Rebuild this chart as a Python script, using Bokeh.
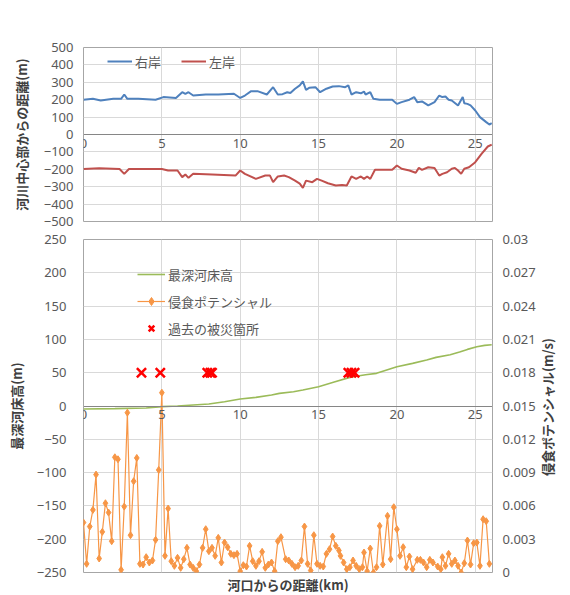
import math
from bokeh.plotting import figure
from bokeh.layouts import column
from bokeh.models import Range1d, LinearAxis, FixedTicker, NumeralTickFormatter, Legend, LegendItem, Title
from bokeh.embed import file_html
from bokeh.resources import INLINE

# ---------------- data ----------------
# top chart: distance from river centre (m)
right_km = [0, 0.6, 1.1, 1.9, 2.4, 2.6, 2.8, 3.5, 4.6, 5.1, 5.9, 6.3, 6.5, 6.7, 7.0, 7.8, 8.6, 9.6,
            10.0, 10.3, 10.7, 11.1, 11.7, 12.1, 12.4, 12.7, 13.0, 13.2, 13.5, 13.8, 14.0, 14.2, 14.4,
            14.8, 15.1, 15.5, 15.9, 16.3, 16.7, 16.9, 17.1, 17.4, 17.7, 17.9, 18.0, 18.3, 18.5, 18.9,
            19.7, 20.0, 20.3, 20.8, 21.1, 21.3, 21.6, 22.0, 22.4, 22.7, 22.9, 23.1, 23.3, 23.5, 23.9,
            24.2, 24.3, 24.5, 24.7, 25.0, 25.3, 25.7, 25.9, 26.05]
right_bank = [200, 205, 196, 205, 205, 230, 205, 205, 200, 215, 210, 243, 233, 243, 224, 230, 230, 234,
              210, 224, 249, 249, 230, 272, 230, 232, 243, 238, 263, 282, 305, 257, 268,
              272, 243, 263, 276, 278, 272, 282, 230, 243, 237, 247, 230, 243, 205, 200,
              200, 176, 186, 200, 215, 186, 190, 167, 186, 224, 215, 218, 200, 195, 167,
              215, 180, 176, 167, 138, 100, 71, 57, 65]

left_km = [0, 1.0, 2.3, 2.6, 2.9, 5.0, 5.4, 6.0, 6.3, 6.5, 6.7, 7.0, 8.2, 9.7, 10.0, 10.3, 11.0, 11.6,
           11.9, 12.1, 12.4, 12.8, 13.1, 13.5, 13.8, 14.0, 14.2, 14.6, 14.9, 15.2, 15.6, 16.1, 16.5,
           16.8, 17.1, 17.4, 17.7, 17.9, 18.1, 18.3, 18.6, 19.0, 19.7, 20.0, 20.3, 20.8, 21.2, 21.4,
           21.6, 22.0, 22.4, 22.7, 22.9, 23.2, 23.5, 23.7, 23.9, 24.1, 24.3, 24.6, 25.0, 25.4, 25.8, 26.05]
left_bank = [-198, -194, -198, -226, -198, -198, -207, -207, -245, -230, -249, -226, -230, -236, -207, -226, -255, -236,
             -236, -274, -241, -236, -245, -265, -282, -307, -265, -274, -255, -265, -280, -293, -290,
             -293, -241, -255, -241, -255, -241, -255, -203, -203, -203, -178, -197, -207, -220, -192,
             -203, -188, -192, -236, -226, -217, -197, -192, -207, -226, -197, -188, -159, -111, -69, -58]

# bottom chart: deepest riverbed elevation (m)
bed_km = [0, 2, 4, 5, 6, 7, 8, 9, 10, 11, 12, 12.5, 13.4, 14, 15, 16, 17, 17.5, 18, 18.7, 19.2, 20,
          21, 21.9, 22.5, 23.4, 24, 24.5, 25.1, 25.6, 26.05]
bed_elev = [-4.5, -4, -3, -1, 0, 1.5, 3, 6.5, 10.5, 13, 16.5, 19, 21.5, 24, 29, 36, 43, 45, 47, 49, 53, 59,
            64, 69, 73, 77, 81, 85, 89, 91, 92]

# erosion potential (m/s)
ero_km = [0.0, 0.2, 0.4, 0.6, 0.8, 1.0, 1.2, 1.4, 1.6, 1.8, 2.0, 2.2, 2.4, 2.6, 2.8, 3.0, 3.2, 3.4, 3.6, 3.8,
          4.0, 4.2, 4.4, 4.6, 4.8, 5.0, 5.2, 5.4, 5.6, 5.8, 6.0, 6.2, 6.4, 6.6, 6.8, 7.0, 7.2, 7.4, 7.6, 7.8,
          8.0, 8.2, 8.4, 8.6, 8.8, 9.0, 9.2, 9.4, 9.6, 9.8, 10.0, 10.2, 10.4, 10.6, 10.8, 11.0, 11.2, 11.4,
          11.6, 11.8, 12.0, 12.2, 12.4, 12.6, 12.9, 13.1, 13.3, 13.5, 13.7, 13.9, 14.1, 14.3, 14.5, 14.7,
          14.9, 15.1, 15.3, 15.5, 15.7, 15.9, 16.1, 16.3, 16.4, 16.6, 16.8, 17.0, 17.2, 17.4, 17.6, 17.8,
          17.9, 18.1, 18.3, 18.5, 18.7, 18.9, 19.1, 19.4, 19.6, 19.8, 20.0, 20.2, 20.4, 20.6, 20.8, 21.0,
          21.3, 21.5, 21.7, 21.9, 22.1, 22.3, 22.6, 22.8, 22.9, 23.1, 23.3, 23.5, 23.7, 23.9, 24.1, 24.3,
          24.5, 24.7, 24.9, 25.1, 25.3, 25.5, 25.7, 25.9]
ero_pot = [0.0045, 0.00078, 0.00414, 0.00564, 0.00882, 0.00126, 0.00366, 0.00624, 0.0054, 0.00282,
           0.01038, 0.0102, 0.00024, 0.00594, 0.0144, 0.00336, 0.00822, 0.01032, 0.00078, 0.00072,
           0.00138, 0.0009, 0.00108, 0.00294, 0.00924, 0.0162, 0.0015, 0.00576, 0.00102, 0.0006,
           0.00132, 0.00042, 0.0012, 0.00222, 0.00072, 0.00042, 0.00012, 0.00072, 0.00222, 0.0039,
           0.00192, 0.00222, 0.0015, 0.00312, 0.0009, 0.0027, 0.00228, 0.00168, 0.00156, 0.00168,
           0.00012, 0.00066, 0.00054, 0.0024, 0.00102, 0.0006, 0.00102, 0.00186,
           0.00042, 0.00072, 0.0009, 0.00012, 0.00282, 0.00318, 0.0012, 0.00108, 0.00078, 0.00048, 0.0006, 0.00108,
           0.00414, 0.00078, 0.00018, 0.00336,
           0.00078, 0.0006, 0.00054, 0.00168, 0.0021, 0.00324, 0.0024, 0.00198, 0.0015, 0.0009,
           0.0003, 0.00048, 0.00108, 0.0006, 0.0003, 0.00048,
           0.0018, 0.00012, 0.00216, 0.0, 0.00048, 0.0042, 0.00072, 0.0051, 0.0012, 0.00588,
           0.0039, 0.0015, 0.00228, 0.00048, 0.00144, 0.0003,
           0.00114, 0.00114, 0.0009, 0.00048, 0.00114, 0.0009, 0.00054, 0.0003, 0.00138, 0.0006,
           0.00168, 0.00078, 0.00108, 0.0006, 0.0, 0.00084,
           0.00288, 0.00072, 0.00264, 0.0027, 0.0006, 0.0048, 0.00462, 0.00078]

# past disaster locations (km), plotted at 50 m
disaster_km = [3.7, 4.9, 7.9, 8.1, 8.2, 16.9, 17.1, 17.3]
disaster_y = [50, 50, 50, 50, 50, 50, 50, 50]

x_ticks = [0, 5, 10, 15, 20, 25]
top_y_ticks = [-500, -400, -300, -200, -100, 0, 100, 200, 300, 400, 500]
bot_y_ticks = [-250, -200, -150, -100, -50, 0, 50, 100, 150, 200, 250]
right_ticks = [0, 0.003, 0.006, 0.009, 0.012, 0.015, 0.018, 0.021, 0.024, 0.027, 0.03]

assert len(ero_km) == len(ero_pot)
assert len(right_km) == len(right_bank)
assert len(left_km) == len(left_bank)

FONT = "Noto Sans CJK JP"
NUMF = "Noto Sans"
GRID = "#D9D9D9"
TXT = "#404040"
LBL = "#595959"

BLUE = "#4F81BD"
RED = "#C0504D"
GREEN = "#9BBB59"
ORANGE = "#F79646"

X_MAX = 26.1


def style_axis(ax):
    ax.major_label_text_font = NUMF
    ax.major_label_text_font_size = "13px"
    ax.major_label_text_color = LBL
    ax.major_tick_out = 0
    ax.major_tick_in = 0
    ax.minor_tick_out = 0
    ax.minor_tick_in = 0
    ax.axis_label_text_font = FONT
    ax.axis_label_text_font_size = "13px"
    ax.axis_label_text_font_style = "bold"
    ax.axis_label_text_color = TXT


# ---------------- top chart ----------------
top = figure(width=570, height=230, x_range=Range1d(0, X_MAX), y_range=Range1d(-500, 500),
             output_backend="svg", toolbar_location=None,
             min_border_left=79, min_border_right=78, min_border_top=47, min_border_bottom=9)
top.outline_line_color = "#A6A6A6"
top.xgrid.grid_line_color = GRID
top.ygrid.grid_line_color = GRID
top.xaxis.ticker = FixedTicker(ticks=x_ticks)
top.yaxis.ticker = FixedTicker(ticks=top_y_ticks)
for ax in top.xaxis + top.yaxis:
    style_axis(ax)
top.xaxis.fixed_location = 0
top.xaxis.axis_line_color = "#868686"
top.xaxis.major_label_standoff = 4
top.yaxis.axis_line_color = None
top.yaxis.major_label_standoff = 10
top.yaxis.axis_label = "河川中心部からの距離(m)"
top.yaxis.axis_label_standoff = 10

r_right = top.line(right_km, right_bank, line_color=BLUE, line_width=2)
r_left = top.line(left_km, left_bank, line_color=RED, line_width=2)

leg_top = Legend(items=[LegendItem(label="右岸", renderers=[r_right]),
                        LegendItem(label="左岸", renderers=[r_left])],
                 orientation="horizontal", location=(22, 148))
leg_top.background_fill_alpha = 0
leg_top.border_line_alpha = 0
leg_top.label_text_font = FONT
leg_top.label_text_font_size = "13px"
leg_top.label_text_color = LBL
leg_top.glyph_width = 25
leg_top.label_standoff = 3
leg_top.spacing = 20
leg_top.padding = 2
leg_top.margin = 0
top.add_layout(leg_top)

# ---------------- bottom chart ----------------
bot = figure(width=570, height=365, x_range=Range1d(0, X_MAX), y_range=Range1d(-250, 250),
             output_backend="svg", toolbar_location=None,
             min_border_left=83, min_border_right=78, min_border_top=9, min_border_bottom=23)
bot.extra_y_ranges = {"right": Range1d(0, 0.03)}
bot.outline_line_color = "#A6A6A6"
bot.xgrid.grid_line_color = GRID
bot.ygrid.grid_line_color = GRID
bot.xaxis.ticker = FixedTicker(ticks=x_ticks)
bot.yaxis.ticker = FixedTicker(ticks=bot_y_ticks)

raxis = LinearAxis(y_range_name="right", ticker=FixedTicker(ticks=right_ticks),
                   formatter=NumeralTickFormatter(format="0.[000]"))
bot.add_layout(raxis, "right")

for ax in bot.xaxis + bot.yaxis:
    style_axis(ax)
bot.xaxis.fixed_location = 0
bot.xaxis.axis_line_color = "#868686"
bot.xaxis.major_label_standoff = 4
bot.yaxis.axis_line_color = None
bot.yaxis[0].major_label_standoff = 17
bot.yaxis[0].axis_label = "最深河床高(m)"
bot.yaxis[0].axis_label_standoff = 8
raxis.major_label_standoff = 10

# right-axis title (reads bottom to top): carried by an outer axis with a single labelled tick,
# positioned so that the text is centred on the plot's height
RIGHT_TITLE = "侵食ポテンシャル(m/s)"
title_pos = 0.0087
tax = LinearAxis(y_range_name="right", ticker=FixedTicker(ticks=[title_pos]),
                 major_label_overrides={title_pos: RIGHT_TITLE})
tax.axis_line_color = None
tax.major_tick_out = 0
tax.major_tick_in = 0
tax.minor_tick_out = 0
tax.minor_tick_in = 0
tax.major_label_orientation = math.pi / 2
tax.major_label_standoff = 9
tax.major_label_text_font = FONT
tax.major_label_text_font_size = "13px"
tax.major_label_text_font_style = "bold"
tax.major_label_text_color = TXT
bot.add_layout(tax, "right")

xt = Title(text="河口からの距離(km)", align="center", text_font=FONT, text_font_size="13px",
           text_font_style="bold", text_color=TXT, standoff=0)
bot.add_layout(xt, "below")

r_bed = bot.line(bed_km, bed_elev, line_color=GREEN, line_width=1.6)
r_ero_l = bot.line(ero_km, ero_pot, y_range_name="right", line_color=ORANGE, line_width=1.2)
r_ero_m = bot.scatter(ero_km, ero_pot, y_range_name="right", marker="diamond", size=7,
                      fill_color=ORANGE, line_color=ORANGE)
r_dis = bot.scatter(disaster_km, disaster_y, marker="x", size=13, line_color="#FF0000", line_width=2.5)

leg_bot = Legend(items=[LegendItem(label="最深河床高", renderers=[r_bed]),
                        LegendItem(label="侵食ポテンシャル", renderers=[r_ero_l, r_ero_m]),
                        LegendItem(label="過去の被災箇所", renderers=[r_dis])],
                 location=(52, 232))
leg_bot.background_fill_alpha = 0
leg_bot.border_line_alpha = 0
leg_bot.label_text_font = FONT
leg_bot.label_text_font_size = "13px"
leg_bot.label_text_color = LBL
leg_bot.glyph_width = 28
leg_bot.label_standoff = 3
leg_bot.spacing = 7
leg_bot.padding = 2
leg_bot.margin = 0
bot.add_layout(leg_bot)

layout = column(top, bot, spacing=0)
open("out.html", "w").write(file_html(layout, INLINE))
